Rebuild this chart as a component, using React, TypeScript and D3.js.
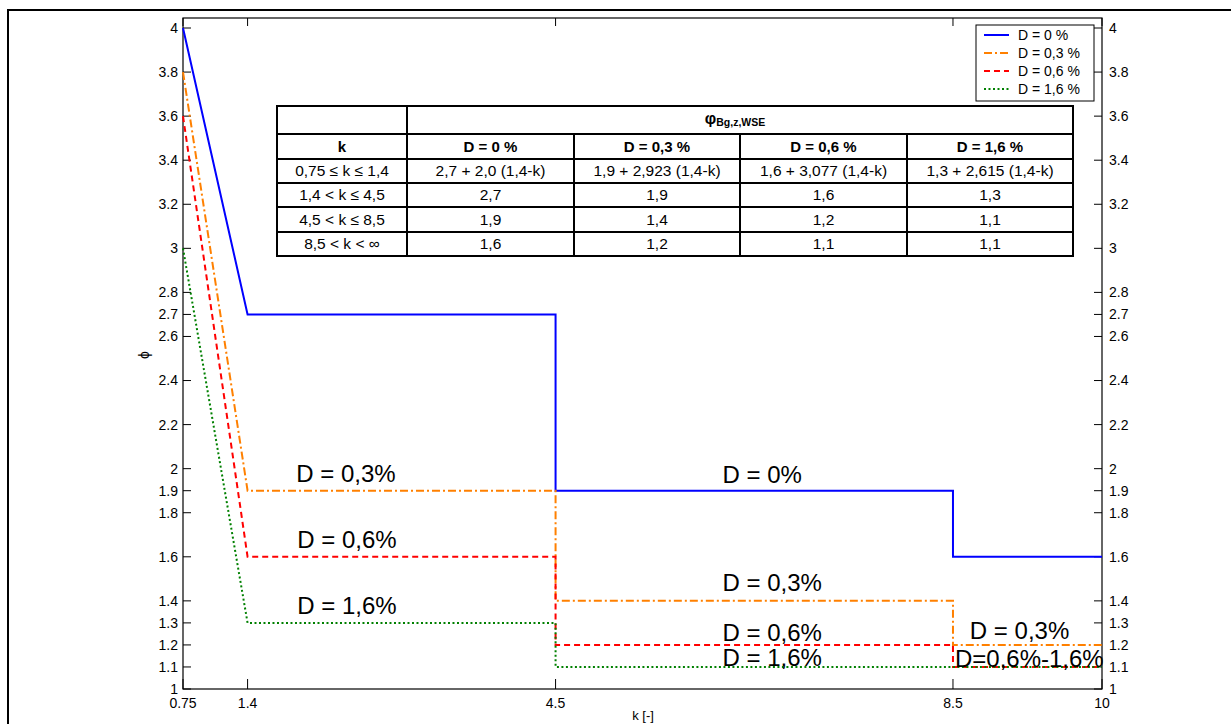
import React from "react";
import * as d3 from "d3";

// ---- data ----
const kTicks = [0.75, 1.4, 4.5, 8.5, 10];
const kTickLabels = ["0.75", "1.4", "4.5", "8.5", "10"];
const phiTicks = [1, 1.1, 1.2, 1.3, 1.4, 1.6, 1.8, 1.9, 2, 2.2, 2.4, 2.6, 2.7, 2.8, 3, 3.2, 3.4, 3.6, 3.8, 4];
const phiTickLabels = ["1", "1.1", "1.2", "1.3", "1.4", "1.6", "1.8", "1.9", "2", "2.2", "2.4", "2.6", "2.7", "2.8", "3", "3.2", "3.4", "3.6", "3.8", "4"];

const seriesNames = ["D = 0 %", "D = 0,3 %", "D = 0,6 %", "D = 1,6 %"];
const seriesColors = ["#0000ff", "#ff8000", "#ff0000", "#008000"];
const seriesDash = ["none", "8,3,2,3", "6,4", "2,2.5"];
// curve breakpoints (k) and phi values at each breakpoint
const breakK = [0.75, 1.4, 4.5, 4.5, 8.5, 8.5, 10];
const phiD0 = [4.0, 2.7, 2.7, 1.9, 1.9, 1.6, 1.6];
const phiD03 = [3.8, 1.9, 1.9, 1.4, 1.4, 1.2, 1.2];
const phiD06 = [3.6, 1.6, 1.6, 1.2, 1.2, 1.1, 1.1];
const phiD16 = [3.0, 1.3, 1.3, 1.1, 1.1, 1.1, 1.1];
const seriesValues = [phiD0, phiD03, phiD06, phiD16];

const annoTexts = ["D = 0,3%", "D = 0,6%", "D = 1,6%", "D = 0%", "D = 0,3%", "D = 0,6%", "D = 1,6%", "D = 0,3%", "D=0,6%-1,6%"];
const annoK = [1.89, 1.90, 1.90, 6.18, 6.18, 6.18, 6.18, 8.67, 8.52];
const annoPhi = [1.94, 1.64, 1.34, 1.935, 1.445, 1.218, 1.104, 1.227, 1.10];

const tableHeaderTop = "φ";
const tableHeaderSub = "Bg,z,WSE";
const tableColHeaders = ["k", "D = 0 %", "D = 0,3 %", "D = 0,6 %", "D = 1,6 %"];
const tableRowK = ["0,75 ≤ k ≤ 1,4", "1,4 < k ≤ 4,5", "4,5 < k ≤ 8,5", "8,5 < k < ∞"];
const tableD0 = ["2,7 + 2,0 (1,4-k)", "2,7", "1,9", "1,6"];
const tableD03 = ["1,9 + 2,923 (1,4-k)", "1,9", "1,4", "1,2"];
const tableD06 = ["1,6 + 3,077 (1,4-k)", "1,6", "1,2", "1,1"];
const tableD16 = ["1,3 + 2,615 (1,4-k)", "1,3", "1,1", "1,1"];

const FONT = "Arial, 'Liberation Sans', Helvetica, sans-serif";

export default function App() {
  const W = 1231, H = 724;
  const left = 183, right = 1102, top = 18, bottom = 689;
  const x = d3.scaleLinear().domain([0.75, 10]).range([left, right]);
  const y = d3.scaleLinear().domain([1, 4]).range([bottom, 28]);
  const line = d3.line<[number, number]>().x(d => x(d[0])).y(d => y(d[1]));

  // table layout
  const colX = [277, 407, 574, 740, 907, 1073];
  const rowY = [106, 134, 159, 183, 207, 232, 256];
  const tableCols = [tableRowK, tableD0, tableD03, tableD06, tableD16];

  return (
    <svg width={W} height={H} style={{ position: "absolute", left: 0, top: 0, background: "#fff" }} fontFamily={FONT}>
      <rect x={0} y={0} width={W} height={H} fill="#fff" />
      {/* outer figure border */}
      <rect x={8} y={10} width={W + 10} height={H + 10} fill="none" stroke="#000" strokeWidth={2} />

      {/* axes box */}
      <rect x={left} y={top} width={right - left} height={bottom - top} fill="none" stroke="#000" strokeWidth={1.2} />

      {/* y ticks left & right */}
      {phiTicks.map((t, i) => (
        <g key={"yt" + i}>
          <line x1={left} x2={left + 8} y1={y(t)} y2={y(t)} stroke="#000" strokeWidth={1} />
          <line x1={right - 8} x2={right} y1={y(t)} y2={y(t)} stroke="#000" strokeWidth={1} />
          <text x={left - 5} y={y(t)} dy="0.35em" textAnchor="end" fontSize={14}>{phiTickLabels[i]}</text>
          <text x={right + 7} y={y(t)} dy="0.35em" textAnchor="start" fontSize={14}>{phiTickLabels[i]}</text>
        </g>
      ))}
      {/* x ticks */}
      {kTicks.map((t, i) => (
        <g key={"xt" + i}>
          <line x1={x(t)} x2={x(t)} y1={bottom} y2={bottom - 10} stroke="#000" strokeWidth={1} />
          <line x1={x(t)} x2={x(t)} y1={top} y2={top + 8} stroke="#000" strokeWidth={1} />
          <text x={x(t)} y={bottom + 19} textAnchor="middle" fontSize={14}>{kTickLabels[i]}</text>
        </g>
      ))}

      {/* axis labels */}
      <text transform={`translate(${149},${355}) rotate(-90)`} textAnchor="middle" fontSize={14}>ϕ</text>
      <text x={643} y={720} textAnchor="middle" fontSize={13}>k [-]</text>

      {/* series */}
      {seriesValues.map((vals, si) => (
        <path key={"s" + si}
          d={line(breakK.map((k, j) => [k, vals[j]] as [number, number])) || ""}
          fill="none" stroke={seriesColors[si]} strokeWidth={2}
          strokeDasharray={seriesDash[si]} />
      ))}

      {/* annotations */}
      {annoTexts.map((t, i) => (
        <text key={"a" + i} x={x(annoK[i])} y={y(annoPhi[i])} fontSize={24}>{t}</text>
      ))}

      {/* table */}
      <g>
        <rect x={colX[0]} y={rowY[0]} width={colX[5] - colX[0]} height={rowY[6] - rowY[0]} fill="#fff" stroke="#000" strokeWidth={2} />
        {rowY.slice(1, 6).map((ry, i) => (
          <line key={"hr" + i} x1={colX[0]} x2={colX[5]} y1={ry} y2={ry} stroke="#000" strokeWidth={2} />
        ))}
        <line x1={colX[1]} x2={colX[1]} y1={rowY[0]} y2={rowY[6]} stroke="#000" strokeWidth={2} />
        {colX.slice(2, 5).map((cx, i) => (
          <line key={"vc" + i} x1={cx} x2={cx} y1={rowY[1]} y2={rowY[6]} stroke="#000" strokeWidth={2} />
        ))}
        <text x={(colX[1] + colX[5]) / 2 - 5} y={(rowY[0] + rowY[1]) / 2 + 4} textAnchor="middle" fontWeight="bold">
          <tspan fontSize={16}>{tableHeaderTop}</tspan>
          <tspan fontSize={10.5} dy={2}>{tableHeaderSub}</tspan>
        </text>
        {tableColHeaders.map((h, i) => (
          <text key={"ch" + i} x={(colX[i] + colX[i + 1]) / 2} y={(rowY[1] + rowY[2]) / 2} dy="0.35em" textAnchor="middle" fontSize={15} fontWeight="bold">{h}</text>
        ))}
        {tableCols.map((col, ci) => col.map((v, ri) => (
          <text key={`c${ci}-${ri}`} x={(colX[ci] + colX[ci + 1]) / 2} y={(rowY[ri + 2] + rowY[ri + 3]) / 2} dy="0.35em" textAnchor="middle" fontSize={15.5}>{v}</text>
        )))}
      </g>

      {/* legend */}
      <g>
        <rect x={976} y={25} width={118} height={76} fill="#fff" stroke="#000" strokeWidth={1} />
        {seriesNames.map((n, i) => (
          <g key={"lg" + i}>
            <line x1={984} x2={1009} y1={35 + i * 18} y2={35 + i * 18} stroke={seriesColors[i]} strokeWidth={2} strokeDasharray={seriesDash[i]} />
            <text x={1018} y={35 + i * 18} dy="0.35em" fontSize={14}>{n}</text>
          </g>
        ))}
      </g>
    </svg>
  );
}
